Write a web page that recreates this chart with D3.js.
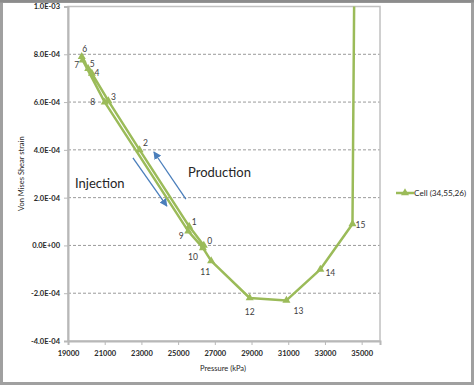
<!DOCTYPE html>
<html><head><meta charset="utf-8">
<script src="https://cdn.jsdelivr.net/npm/d3@7/dist/d3.min.js"></script>
<style>body{margin:0;background:#fff}svg{display:block}</style>
</head><body>
<svg id="c" width="474" height="385"></svg>
<script>
// data
const pointLabels = ["0","1","2","3","4","5","6","7","8","9","10","11","12","13","14","15",""];
const pressure = [26400,25600,22900,21200,20300,20100,19750,19800,21000,25550,26350,26800,28900,30900,32750,34500,34600];
const strain = [0.0,8.0e-5,4.0e-4,6.05e-4,7.2e-4,7.4e-4,7.9e-4,7.75e-4,6.0e-4,6.0e-5,-1.0e-5,-6.5e-5,-2.2e-4,-2.3e-4,-1.0e-4,9.0e-5,1.1e-3];
const xTicks = [19000,21000,23000,25000,27000,29000,31000,33000,35000];
const yTicks = [-4e-4,-2e-4,0,2e-4,4e-4,6e-4,8e-4,1e-3];
const seriesName = "Cell (34,55,26)";
// arrows [x1,y1,x2,y2] in data units
const injectionArrow = [22537,3.66e-4,24388,1.65e-4];
const productionArrow = [25422,1.94e-4,23680,3.91e-4];

// layout (label offsets in px)
const labelOffsets = [[6,-4],[5,-4],[6,-7],[5,-4],[5,0],[4,-5],[3,-8],[-6,5],[-12,0],[-7,5],[-10,9],[-6,11],[0,14],[12,11],[10,4],[8,1],[0,0]];

const svg = d3.select("#c");
const m = {l:68, r:380, t:6.5, b:341};
const x = d3.scaleLinear().domain([19000,36000]).range([m.l,m.r]);
const y = d3.scaleLinear().domain([-4e-4,1e-3]).range([m.b,m.t]);
const font = "Lato, 'Open Sans', sans-serif";
const green = "#9bbb59";

svg.append("rect").attr("x",1.5).attr("y",1.5).attr("width",471).attr("height",382)
  .attr("fill","#fff").attr("stroke","#a0a0a0").attr("stroke-width",3);
svg.append("rect").attr("x",0).attr("y",0).attr("width",474).attr("height",2.5).attr("fill","#8c8c8c");

// gridlines
svg.append("g").selectAll("line").data(yTicks.filter(d=>d>-4e-4 && d<1e-3)).join("line")
  .attr("x1",m.l).attr("x2",m.r).attr("y1",d=>y(d)).attr("y2",d=>y(d))
  .attr("stroke","#9a9a9a").attr("stroke-width",1).attr("stroke-dasharray","3,2");

// plot border
svg.append("rect").attr("x",m.l).attr("y",m.t).attr("width",m.r-m.l).attr("height",m.b-m.t)
  .attr("fill","none").attr("stroke","#c0c0c0").attr("stroke-width",1.5);

// axes
const fmt = d => {
  if (d===0) return "0.0E+00";
  const e = Math.floor(Math.log10(Math.abs(d))+1e-9);
  const mant = d/Math.pow(10,e);
  return mant.toFixed(1)+"E"+(e<0?"-":"+")+String(Math.abs(e)).padStart(2,"0");
};
const ya = svg.append("g").attr("transform",`translate(${m.l},0)`)
  .call(d3.axisLeft(y).tickValues(yTicks).tickFormat(fmt).tickSize(4).tickPadding(4));
const xa = svg.append("g").attr("transform",`translate(0,${m.b})`)
  .call(d3.axisBottom(x).tickValues(xTicks).tickFormat(d3.format("d")).tickSize(4).tickPadding(6));
[ya,xa].forEach(a=>{
  a.select(".domain").attr("stroke","#b8b8b8").attr("stroke-width",2);
  a.selectAll(".tick line").attr("stroke","#b8b8b8");
  a.selectAll("text").attr("font-family",font).attr("font-size",7.5).attr("font-weight","bold").attr("fill","#2a2a2a");
});

// clip
svg.append("clipPath").attr("id","clip").append("rect")
  .attr("x",m.l).attr("y",m.t).attr("width",m.r-m.l).attr("height",m.b-m.t);

const pts = pressure.map((p,i)=>({p, s:strain[i], lab:pointLabels[i], off:labelOffsets[i]}));
const g = svg.append("g").attr("clip-path","url(#clip)");
g.append("path").datum(pts)
  .attr("d", d3.line().x(d=>x(d.p)).y(d=>y(d.s)))
  .attr("fill","none").attr("stroke",green).attr("stroke-width",2.5).attr("stroke-linejoin","round");
const tri = d3.symbol().type(d3.symbolTriangle).size(28);
g.selectAll("path.m").data(pts.slice(0,16)).join("path").attr("class","m")
  .attr("d",tri).attr("transform",d=>`translate(${x(d.p)},${y(d.s)})`).attr("fill",green);

// point labels
svg.append("g").selectAll("text").data(pts.filter(d=>d.lab!=="")).join("text")
  .attr("x",d=>x(d.p)+d.off[0]).attr("y",d=>y(d.s)+d.off[1])
  .attr("text-anchor","middle").attr("dominant-baseline","central")
  .attr("font-family",font).attr("font-size",8.5).attr("fill","#404040").text(d=>d.lab);

// arrows
const defs = svg.append("defs");
defs.append("marker").attr("id","ah").attr("viewBox","0 0 10 10").attr("refX",9).attr("refY",5)
  .attr("markerWidth",6).attr("markerHeight",6).attr("orient","auto")
  .append("path").attr("d","M0,0L10,5L0,10z").attr("fill","#4a7ebb");
[injectionArrow, productionArrow].forEach(a=>{
  svg.append("line").attr("x1",x(a[0])).attr("y1",y(a[1])).attr("x2",x(a[2])).attr("y2",y(a[3]))
    .attr("stroke","#4a7ebb").attr("stroke-width",1.3).attr("marker-end","url(#ah)");
});
svg.append("text").attr("x",75).attr("y",188).attr("font-family",font).attr("font-size",13).attr("fill","#262626").text("Injection");
svg.append("text").attr("x",188).attr("y",177).attr("font-family",font).attr("font-size",13).attr("fill","#262626").text("Production");

// axis titles
svg.append("text").attr("transform",`translate(24,${(m.t+m.b)/2}) rotate(-90)`).attr("text-anchor","middle")
  .attr("font-family",font).attr("font-size",7.5).attr("fill","#262626").text("Von Mises Shear strain");
svg.append("text").attr("x",223).attr("y",371).attr("text-anchor","middle")
  .attr("font-family",font).attr("font-size",7.5).attr("fill","#262626").text("Pressure (kPa)");

// legend
const lg = svg.append("g").attr("transform","translate(396,193)");
lg.append("line").attr("x1",0).attr("x2",18).attr("stroke",green).attr("stroke-width",2.5);
lg.append("path").attr("d",tri).attr("transform","translate(9,0)").attr("fill",green);
lg.append("text").attr("x",18).attr("y",0).attr("dominant-baseline","central")
  .attr("font-family",font).attr("font-size",8.2).attr("fill","#262626").text(seriesName);
</script>
</body></html>
